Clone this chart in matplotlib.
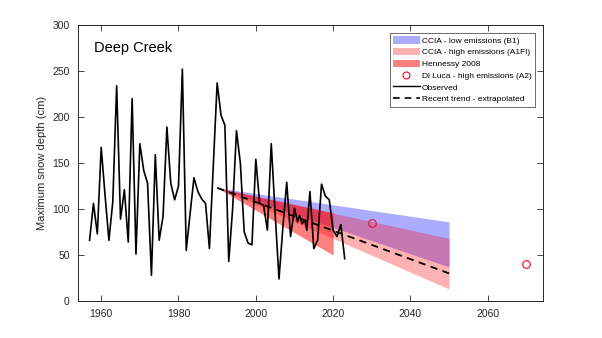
import matplotlib
matplotlib.use("Agg")
import matplotlib.pyplot as plt
from matplotlib.patches import Patch
from matplotlib.lines import Line2D

plt.rcParams['font.family'] = ['Liberation Sans', 'DejaVu Sans']

# Observed maximum snow depth (cm)
obs_years = [1957, 1958, 1959, 1960, 1961, 1962, 1963, 1964, 1965, 1966,
             1967, 1968, 1969, 1970, 1971, 1972, 1973, 1974, 1975, 1976,
             1977, 1978, 1979, 1980, 1981, 1982, 1983, 1984, 1985, 1986,
             1987, 1988, 1989, 1990, 1991, 1992, 1993, 1994, 1995, 1996,
             1997, 1998, 1999, 2000, 2001, 2002, 2003, 2004, 2005, 2006,
             2007, 2008, 2009, 2010, 2010.8, 2011.3, 2012, 2012.7, 2013.2, 2014,
             2015, 2016, 2017, 2018, 2019, 2020, 2021, 2022, 2023]
obs_depth = [66, 106, 73, 167, 115, 66, 108, 234, 89, 121,
             64, 220, 51, 171, 142, 128, 28, 159, 66, 92,
             189, 128, 110, 125, 252, 55, 95, 134, 119, 111,
             106, 57, 147, 237, 202, 191, 43, 100, 185, 150,
             75, 63, 61, 154, 106, 104, 77, 171, 95, 24,
             80, 129, 70, 101, 86, 93, 84, 88, 77, 119,
             57, 66, 127, 114, 110, 77, 70, 83, 46]

# Projection envelopes: [start year, end year], start value, end lower/upper
b1_years = [1990, 2050]
b1_upper = [123, 86]
b1_lower = [123, 37]

a1fi_years = [1990, 2050]
a1fi_upper = [123, 68]
a1fi_lower = [123, 13]

hen_years = [1990, 2020]
hen_upper = [123, 96]
hen_lower = [123, 50]

diluca_years = [2030, 2070]
diluca_depth = [85, 40]

trend_years = [1990, 2050]
trend_depth = [123, 30]

fig = plt.figure(figsize=(6.02, 3.38), dpi=100)
ax = fig.add_axes([78/602, 1-301/338, (543-78)/602, (301-25)/338])

ax.fill_between(b1_years, b1_lower, b1_upper, color=(0, 0, 1), alpha=0.33, lw=0)
ax.fill_between(a1fi_years, a1fi_lower, a1fi_upper, color=(1, 0, 0), alpha=0.3, lw=0)
ax.fill_between(hen_years, hen_lower, hen_upper, color=(1, 0, 0), alpha=0.5, lw=0)
ax.plot(diluca_years, diluca_depth, 'o', mfc='none', mec=(0.95, 0.1, 0.2), ms=5.5, mew=0.9)
ax.plot(obs_years, obs_depth, color='black', lw=1.2)
ax.plot(trend_years, trend_depth, color='black', lw=1.3, ls=(0, (4, 3)))

ax.set_xlim(1954, 2074.3)
ax.set_ylim(0, 300)
ax.set_xticks([1960, 1980, 2000, 2020, 2040, 2060])
ax.set_yticks([0, 50, 100, 150, 200, 250, 300])
grey = (0.15, 0.15, 0.15)
ax.tick_params(direction='in', top=True, right=True, length=4, width=0.6,
               colors=grey, labelsize=7.5, pad=6)
for s in ax.spines.values():
    s.set_color(grey)
    s.set_linewidth(0.7)
ax.set_ylabel('Maximum snow depth (cm)', fontsize=8, color=grey, labelpad=4)

ax.text(0.034, 0.915, 'Deep Creek', transform=ax.transAxes, fontsize=10.5,
        ha='left', va='center', color='black')

handles = [
    Patch(facecolor=(0, 0, 1), alpha=0.33, edgecolor='none', label='CCIA - low emissions (B1)'),
    Patch(facecolor=(1, 0, 0), alpha=0.3, edgecolor='none', label='CCIA - high emissions (A1FI)'),
    Patch(facecolor=(1, 0, 0), alpha=0.5, edgecolor='none', label='Hennessy 2008'),
    Line2D([], [], marker='o', ls='none', mfc='none', mec=(0.95, 0.1, 0.2), ms=5, mew=0.9,
           label='Di Luca - high emissions (A2)'),
    Line2D([], [], color='black', lw=1.0, label='Observed'),
    Line2D([], [], color='black', lw=1.2, ls=(0, (4, 3)), label='Recent trend - extrapolated'),
]
leg = ax.legend(handles=handles, loc='upper right', bbox_to_anchor=(0.983, 0.972),
                fontsize=6.0, frameon=True, fancybox=False, borderpad=0.4,
                handlelength=3.2, handleheight=1.0, handletextpad=0.3,
                labelspacing=0.38, borderaxespad=0)
leg.get_frame().set_edgecolor(grey)
leg.get_frame().set_linewidth(0.6)

fig.savefig('out.png', dpi=100)
